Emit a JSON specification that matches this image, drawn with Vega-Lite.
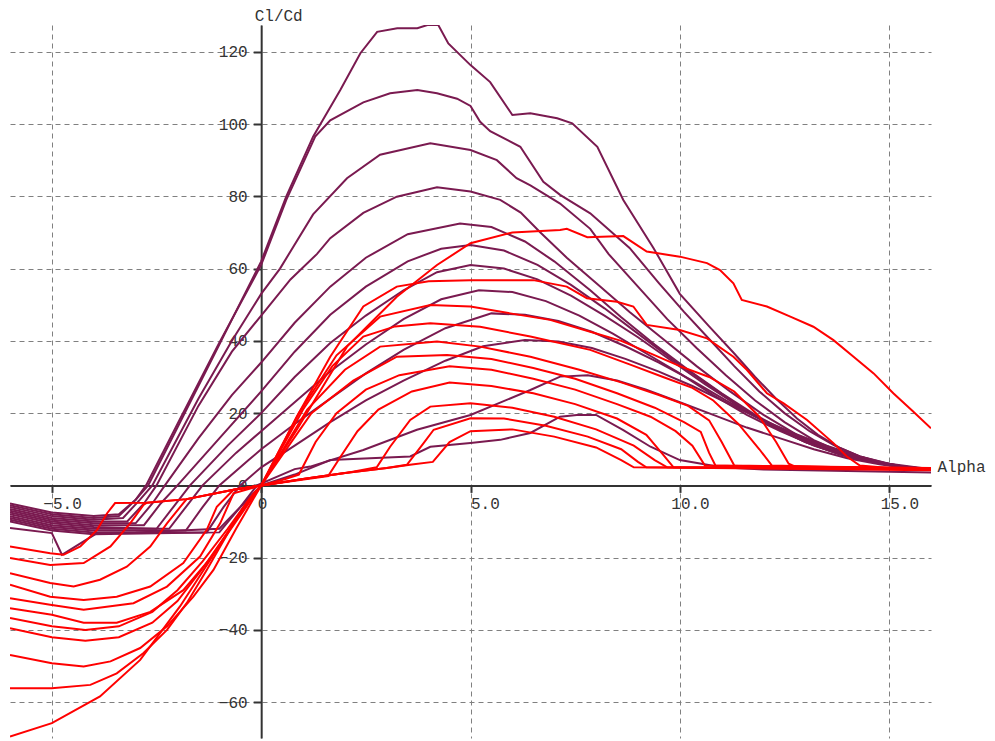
{
"$schema":"https://vega.github.io/schema/vega-lite/v6.json",
"width":921,"height":713,
"autosize":{"type":"none"},
"padding":{"left":10,"top":25,"right":64,"bottom":3},
"background":"white",
"config":{"view":{"stroke":null},"font":"Liberation Mono"},
"datasets":{
"purple":[
{"s":"P1","x":-6,"y":-5},{"s":"P1","x":-5,"y":-7.5},{"s":"P1","x":-4,"y":-8.5},{"s":"P1","x":-3.4,"y":-8},{"s":"P1","x":-3.0,"y":-4},{"s":"P1","x":-2.7,"y":0},{"s":"P1","x":-2.0,"y":16},{"s":"P1","x":-1.0,"y":39},{"s":"P1","x":0,"y":62},{"s":"P1","x":0.6,"y":80},{"s":"P1","x":1.24,"y":96.5},{"s":"P1","x":1.89,"y":109.4},{"s":"P1","x":2.37,"y":119.6},{"s":"P1","x":2.77,"y":125.5},{"s":"P1","x":3.25,"y":126.5},{"s":"P1","x":3.73,"y":126.5},{"s":"P1","x":3.97,"y":127.4},{"s":"P1","x":4.23,"y":127.4},{"s":"P1","x":4.47,"y":122.3},{"s":"P1","x":5.0,"y":116.3},{"s":"P1","x":5.47,"y":111.6},{"s":"P1","x":6.0,"y":102.5},{"s":"P1","x":6.43,"y":103},{"s":"P1","x":7.07,"y":101.6},{"s":"P1","x":7.43,"y":100.2},{"s":"P1","x":8.03,"y":93.7},{"s":"P1","x":8.65,"y":79},{"s":"P1","x":9.37,"y":65.7},{"s":"P1","x":10,"y":53},{"s":"P1","x":10.7,"y":44},{"s":"P1","x":11.3,"y":36.5},{"s":"P1","x":11.8,"y":30},{"s":"P1","x":12.3,"y":24},{"s":"P1","x":12.8,"y":18.5},{"s":"P1","x":13.3,"y":14},{"s":"P1","x":13.8,"y":10.5},{"s":"P1","x":14.3,"y":8},{"s":"P1","x":14.8,"y":6.3},{"s":"P1","x":15.3,"y":5.2},{"s":"P1","x":16,"y":4.3},
{"s":"P2","x":-6,"y":-5.5},{"s":"P2","x":-5,"y":-8},{"s":"P2","x":-4,"y":-9},{"s":"P2","x":-3.4,"y":-8.5},{"s":"P2","x":-3.0,"y":-4},{"s":"P2","x":-2.75,"y":0},{"s":"P2","x":-2.0,"y":17},{"s":"P2","x":-1.0,"y":39.5},{"s":"P2","x":0,"y":61},{"s":"P2","x":0.6,"y":79},{"s":"P2","x":1.29,"y":96.5},{"s":"P2","x":1.65,"y":101},{"s":"P2","x":2.44,"y":106},{"s":"P2","x":3.08,"y":108.5},{"s":"P2","x":3.73,"y":109.4},{"s":"P2","x":4.2,"y":108.5},{"s":"P2","x":4.68,"y":107},{"s":"P2","x":5.0,"y":105},{"s":"P2","x":5.23,"y":100.6},{"s":"P2","x":5.47,"y":98},{"s":"P2","x":6.19,"y":93.7},{"s":"P2","x":6.74,"y":84},{"s":"P2","x":7.14,"y":80.4},{"s":"P2","x":7.86,"y":75.3},{"s":"P2","x":8.8,"y":65.7},{"s":"P2","x":9.5,"y":56},{"s":"P2","x":10.1,"y":48},{"s":"P2","x":10.7,"y":40.5},{"s":"P2","x":11.3,"y":33},{"s":"P2","x":11.9,"y":26},{"s":"P2","x":12.5,"y":20},{"s":"P2","x":13.1,"y":15},{"s":"P2","x":13.7,"y":11},{"s":"P2","x":14.3,"y":8},{"s":"P2","x":14.9,"y":6.2},{"s":"P2","x":15.4,"y":5.1},{"s":"P2","x":16,"y":4.3},
{"s":"P3","x":-6,"y":-6},{"s":"P3","x":-5,"y":-8.5},{"s":"P3","x":-4,"y":-9.5},{"s":"P3","x":-3.3,"y":-9},{"s":"P3","x":-2.9,"y":-4},{"s":"P3","x":-2.6,"y":0},{"s":"P3","x":-1.5,"y":24},{"s":"P3","x":-0.7,"y":40},{"s":"P3","x":0,"y":53},{"s":"P3","x":0.45,"y":60},{"s":"P3","x":1.24,"y":75},{"s":"P3","x":2.05,"y":85},{"s":"P3","x":2.84,"y":91.5},{"s":"P3","x":4.04,"y":94.7},{"s":"P3","x":5,"y":92.8},{"s":"P3","x":5.63,"y":90},{"s":"P3","x":6.1,"y":85},{"s":"P3","x":6.43,"y":83},{"s":"P3","x":7.14,"y":78},{"s":"P3","x":7.86,"y":71},{"s":"P3","x":8.3,"y":64},{"s":"P3","x":9,"y":55},{"s":"P3","x":9.7,"y":46},{"s":"P3","x":10.4,"y":38},{"s":"P3","x":11.1,"y":30.5},{"s":"P3","x":11.8,"y":23.5},{"s":"P3","x":12.5,"y":17.5},{"s":"P3","x":13.2,"y":12.5},{"s":"P3","x":13.9,"y":9},{"s":"P3","x":14.6,"y":6.8},{"s":"P3","x":15.3,"y":5.3},{"s":"P3","x":16,"y":4.4},
{"s":"P4","x":-6,"y":-6.5},{"s":"P4","x":-5,"y":-9},{"s":"P4","x":-4,"y":-10},{"s":"P4","x":-3.2,"y":-10},{"s":"P4","x":-2.8,"y":-5},{"s":"P4","x":-2.5,"y":0},{"s":"P4","x":-1.5,"y":22},{"s":"P4","x":-0.7,"y":37},{"s":"P4","x":0,"y":47},{"s":"P4","x":0.7,"y":57},{"s":"P4","x":1.33,"y":64},{"s":"P4","x":1.65,"y":68.4},{"s":"P4","x":2.44,"y":75.4},{"s":"P4","x":3.24,"y":79.9},{"s":"P4","x":4.2,"y":82.5},{"s":"P4","x":5,"y":81.3},{"s":"P4","x":5.71,"y":79},{"s":"P4","x":6.2,"y":75.5},{"s":"P4","x":6.67,"y":70},{"s":"P4","x":7.3,"y":63},{"s":"P4","x":8,"y":56},{"s":"P4","x":8.8,"y":48},{"s":"P4","x":9.6,"y":40.5},{"s":"P4","x":10.4,"y":33},{"s":"P4","x":11.2,"y":26},{"s":"P4","x":12,"y":19.5},{"s":"P4","x":12.8,"y":14},{"s":"P4","x":13.6,"y":10},{"s":"P4","x":14.4,"y":7.2},{"s":"P4","x":15.2,"y":5.4},{"s":"P4","x":16,"y":4.4},
{"s":"P5","x":-6,"y":-7},{"s":"P5","x":-5,"y":-9.5},{"s":"P5","x":-4,"y":-10.5},{"s":"P5","x":-3,"y":-10.5},{"s":"P5","x":-2.6,"y":-5},{"s":"P5","x":-2.3,"y":0},{"s":"P5","x":-1.5,"y":13},{"s":"P5","x":-0.7,"y":25},{"s":"P5","x":0,"y":34},{"s":"P5","x":0.8,"y":45},{"s":"P5","x":1.65,"y":55},{"s":"P5","x":2.5,"y":63},{"s":"P5","x":3.5,"y":69.5},{"s":"P5","x":4.75,"y":72.5},{"s":"P5","x":5.5,"y":71.5},{"s":"P5","x":6.3,"y":67.5},{"s":"P5","x":7,"y":62},{"s":"P5","x":7.86,"y":54},{"s":"P5","x":8.6,"y":46.5},{"s":"P5","x":9.4,"y":39},{"s":"P5","x":10.2,"y":32},{"s":"P5","x":11,"y":25.5},{"s":"P5","x":11.8,"y":19.5},{"s":"P5","x":12.6,"y":14.5},{"s":"P5","x":13.4,"y":10.5},{"s":"P5","x":14.2,"y":7.5},{"s":"P5","x":15,"y":5.6},{"s":"P5","x":16,"y":4.4},
{"s":"P6","x":-6,"y":-7.5},{"s":"P6","x":-5,"y":-10},{"s":"P6","x":-4,"y":-11},{"s":"P6","x":-2.8,"y":-11},{"s":"P6","x":-2.4,"y":-5},{"s":"P6","x":-2.0,"y":0},{"s":"P6","x":-1,"y":13},{"s":"P6","x":0,"y":26},{"s":"P6","x":0.8,"y":37},{"s":"P6","x":1.65,"y":47.2},{"s":"P6","x":2.5,"y":55},{"s":"P6","x":3.5,"y":62},{"s":"P6","x":4.3,"y":65.5},{"s":"P6","x":5,"y":66.5},{"s":"P6","x":5.8,"y":65},{"s":"P6","x":6.6,"y":61},{"s":"P6","x":7.4,"y":55.5},{"s":"P6","x":8.2,"y":49},{"s":"P6","x":9,"y":42},{"s":"P6","x":9.8,"y":35},{"s":"P6","x":10.6,"y":28.5},{"s":"P6","x":11.4,"y":22},{"s":"P6","x":12.2,"y":16.5},{"s":"P6","x":13,"y":12},{"s":"P6","x":13.8,"y":8.7},{"s":"P6","x":14.6,"y":6.4},{"s":"P6","x":15.3,"y":5.1},{"s":"P6","x":16,"y":4.4},
{"s":"P7","x":-6,"y":-8},{"s":"P7","x":-5,"y":-10.5},{"s":"P7","x":-4,"y":-11.5},{"s":"P7","x":-2.5,"y":-12},{"s":"P7","x":-2.1,"y":-6},{"s":"P7","x":-1.7,"y":0},{"s":"P7","x":-0.8,"y":11},{"s":"P7","x":0,"y":20},{"s":"P7","x":0.8,"y":30},{"s":"P7","x":1.65,"y":39.4},{"s":"P7","x":2.5,"y":47},{"s":"P7","x":3.4,"y":54},{"s":"P7","x":4.2,"y":59},{"s":"P7","x":5,"y":61},{"s":"P7","x":5.8,"y":60},{"s":"P7","x":6.6,"y":57},{"s":"P7","x":7.4,"y":52.5},{"s":"P7","x":8.2,"y":47},{"s":"P7","x":9,"y":41},{"s":"P7","x":9.8,"y":34.5},{"s":"P7","x":10.6,"y":28},{"s":"P7","x":11.4,"y":22},{"s":"P7","x":12.2,"y":16.5},{"s":"P7","x":13,"y":12},{"s":"P7","x":13.8,"y":8.7},{"s":"P7","x":14.6,"y":6.4},{"s":"P7","x":15.3,"y":5.1},{"s":"P7","x":16,"y":4.4},
{"s":"P8","x":-6,"y":-8.5},{"s":"P8","x":-5,"y":-11},{"s":"P8","x":-4,"y":-12},{"s":"P8","x":-2.2,"y":-12},{"s":"P8","x":-1.8,"y":-6},{"s":"P8","x":-1.4,"y":0},{"s":"P8","x":-0.6,"y":9},{"s":"P8","x":0,"y":15},{"s":"P8","x":0.8,"y":23},{"s":"P8","x":1.65,"y":31.5},{"s":"P8","x":2.5,"y":39},{"s":"P8","x":3.4,"y":46},{"s":"P8","x":4.3,"y":51.5},{"s":"P8","x":5.2,"y":54},{"s":"P8","x":6,"y":53.5},{"s":"P8","x":6.8,"y":51},{"s":"P8","x":7.6,"y":47},{"s":"P8","x":8.4,"y":42},{"s":"P8","x":9.2,"y":36.5},{"s":"P8","x":10,"y":31},{"s":"P8","x":10.8,"y":25},{"s":"P8","x":11.6,"y":19.5},{"s":"P8","x":12.4,"y":15},{"s":"P8","x":13.2,"y":11},{"s":"P8","x":14,"y":8},{"s":"P8","x":14.8,"y":6},{"s":"P8","x":15.5,"y":4.8},{"s":"P8","x":16,"y":4.4},
{"s":"P9","x":-6,"y":-9},{"s":"P9","x":-5,"y":-11.5},{"s":"P9","x":-4,"y":-12.5},{"s":"P9","x":-1.8,"y":-12.5},{"s":"P9","x":-1.4,"y":-6},{"s":"P9","x":-1.0,"y":0},{"s":"P9","x":-0.3,"y":7},{"s":"P9","x":0,"y":10},{"s":"P9","x":0.8,"y":17},{"s":"P9","x":1.65,"y":24},{"s":"P9","x":2.5,"y":31},{"s":"P9","x":3.4,"y":37.5},{"s":"P9","x":4.4,"y":43.5},{"s":"P9","x":5.5,"y":47.6},{"s":"P9","x":6.3,"y":47.2},{"s":"P9","x":7.1,"y":45.5},{"s":"P9","x":7.9,"y":42.5},{"s":"P9","x":8.7,"y":38.5},{"s":"P9","x":9.5,"y":34},{"s":"P9","x":10.3,"y":29},{"s":"P9","x":11.1,"y":23.5},{"s":"P9","x":11.9,"y":18.5},{"s":"P9","x":12.7,"y":14},{"s":"P9","x":13.5,"y":10.5},{"s":"P9","x":14.3,"y":7.5},{"s":"P9","x":15,"y":5.7},{"s":"P9","x":16,"y":4.4},
{"s":"P10","x":-6,"y":-9.5},{"s":"P10","x":-5,"y":-12},{"s":"P10","x":-4,"y":-13},{"s":"P10","x":-1.3,"y":-13},{"s":"P10","x":-0.9,"y":-6},{"s":"P10","x":-0.5,"y":0},{"s":"P10","x":0,"y":5},{"s":"P10","x":0.8,"y":11},{"s":"P10","x":1.65,"y":17.5},{"s":"P10","x":2.5,"y":23.5},{"s":"P10","x":3.4,"y":29},{"s":"P10","x":4.4,"y":34.5},{"s":"P10","x":5.3,"y":38.5},{"s":"P10","x":6.3,"y":40.2},{"s":"P10","x":7.1,"y":39.8},{"s":"P10","x":7.9,"y":38},{"s":"P10","x":8.7,"y":35},{"s":"P10","x":9.5,"y":31.5},{"s":"P10","x":10.3,"y":27.5},{"s":"P10","x":11.1,"y":23},{"s":"P10","x":11.9,"y":18.5},{"s":"P10","x":12.7,"y":14.5},{"s":"P10","x":13.5,"y":11},{"s":"P10","x":14.3,"y":8},{"s":"P10","x":15,"y":6},{"s":"P10","x":16,"y":4.5},
{"s":"P11","x":-6,"y":-10},{"s":"P11","x":-5,"y":-12.5},{"s":"P11","x":-4,"y":-13.5},{"s":"P11","x":-1,"y":-13},{"s":"P11","x":-0.5,"y":-6},{"s":"P11","x":-0.1,"y":0},{"s":"P11","x":0.8,"y":4.5},{"s":"P11","x":1.17,"y":5.2},{"s":"P11","x":2.44,"y":9.8},{"s":"P11","x":3.72,"y":15.4},{"s":"P11","x":5,"y":19.5},{"s":"P11","x":6.43,"y":26.4},{"s":"P11","x":7.14,"y":30.1},{"s":"P11","x":7.8,"y":30.5},{"s":"P11","x":8.5,"y":29},{"s":"P11","x":9.2,"y":26.5},{"s":"P11","x":10,"y":23},{"s":"P11","x":10.8,"y":19.5},{"s":"P11","x":11.6,"y":16},{"s":"P11","x":12.4,"y":13},{"s":"P11","x":13.2,"y":10},{"s":"P11","x":14,"y":7.5},{"s":"P11","x":14.8,"y":5.8},{"s":"P11","x":15.5,"y":4.8},{"s":"P11","x":16,"y":4.5},
{"s":"P12","x":-6,"y":-11.8},{"s":"P12","x":-5,"y":-13.2},{"s":"P12","x":-4.76,"y":-19.2},{"s":"P12","x":-3.92,"y":-13.2},{"s":"P12","x":-3,"y":-13},{"s":"P12","x":-1,"y":-12},{"s":"P12","x":-0.5,"y":-6},{"s":"P12","x":0,"y":0},{"s":"P12","x":0.8,"y":3},{"s":"P12","x":1.65,"y":7},{"s":"P12","x":3.56,"y":8},{"s":"P12","x":4.04,"y":10.7},{"s":"P12","x":5,"y":11.7},{"s":"P12","x":5.71,"y":12.6},{"s":"P12","x":6.43,"y":14.5},{"s":"P12","x":7.14,"y":19},{"s":"P12","x":7.54,"y":19.5},{"s":"P12","x":8.0,"y":19.5},{"s":"P12","x":8.65,"y":15.3},{"s":"P12","x":9.3,"y":10.7},{"s":"P12","x":10,"y":7},{"s":"P12","x":11,"y":5},{"s":"P12","x":12,"y":4.4},{"s":"P12","x":14,"y":4},{"s":"P12","x":16,"y":3.6}
],
"red":[
{"s":"R1","x":-6,"y":-69.5},{"s":"R1","x":-5,"y":-65.8},{"s":"R1","x":-3.85,"y":-58.4},{"s":"R1","x":-2.89,"y":-48.3},{"s":"R1","x":-1.94,"y":-33.5},{"s":"R1","x":-1.06,"y":-17.8},{"s":"R1","x":-0.42,"y":-5.9},{"s":"R1","x":0,"y":0},{"s":"R1","x":0.85,"y":15.4},{"s":"R1","x":2.05,"y":38.4},{"s":"R1","x":3.24,"y":52.2},{"s":"R1","x":4.2,"y":61},{"s":"R1","x":5,"y":67},{"s":"R1","x":6,"y":70},{"s":"R1","x":7.14,"y":70.7},{"s":"R1","x":7.3,"y":71},{"s":"R1","x":7.79,"y":68.7},{"s":"R1","x":8.65,"y":69},{"s":"R1","x":9.21,"y":64.7},{"s":"R1","x":10,"y":63.3},{"s":"R1","x":10.65,"y":61.5},{"s":"R1","x":10.96,"y":59.6},{"s":"R1","x":11.28,"y":55.9},{"s":"R1","x":11.48,"y":51.3},{"s":"R1","x":12.08,"y":49.5},{"s":"R1","x":12.64,"y":46.7},{"s":"R1","x":13.19,"y":43.9},{"s":"R1","x":13.67,"y":40.2},{"s":"R1","x":14.15,"y":35.6},{"s":"R1","x":14.63,"y":31},{"s":"R1","x":15.1,"y":25.5},{"s":"R1","x":15.58,"y":20.4},{"s":"R1","x":16,"y":15.8},
{"s":"R2","x":-6,"y":-56.1},{"s":"R2","x":-5,"y":-56.1},{"s":"R2","x":-4.08,"y":-55.2},{"s":"R2","x":-3.45,"y":-52},{"s":"R2","x":-2.81,"y":-46.4},{"s":"R2","x":-2.25,"y":-40},{"s":"R2","x":-1.78,"y":-32.6},{"s":"R2","x":-1.3,"y":-23.4},{"s":"R2","x":-0.66,"y":-10.5},{"s":"R2","x":-0.18,"y":-2.2},{"s":"R2","x":0,"y":0},{"s":"R2","x":0.85,"y":19},{"s":"R2","x":1.65,"y":35.6},{"s":"R2","x":2.44,"y":49.5},{"s":"R2","x":3.24,"y":55},{"s":"R2","x":4,"y":56.5},{"s":"R2","x":5,"y":56.8},{"s":"R2","x":6.5,"y":56.8},{"s":"R2","x":7.3,"y":55},{"s":"R2","x":7.78,"y":51.8},{"s":"R2","x":8.5,"y":50.8},{"s":"R2","x":8.89,"y":49.5},{"s":"R2","x":9.21,"y":44.4},{"s":"R2","x":10,"y":43},{"s":"R2","x":10.65,"y":40.7},{"s":"R2","x":11.28,"y":35.6},{"s":"R2","x":11.6,"y":32},{"s":"R2","x":12.08,"y":25.5},{"s":"R2","x":12.48,"y":22.7},{"s":"R2","x":13.04,"y":18.1},{"s":"R2","x":13.67,"y":11.7},{"s":"R2","x":13.99,"y":8},{"s":"R2","x":14.3,"y":5.5},{"s":"R2","x":15,"y":4.8},{"s":"R2","x":16,"y":4.5},
{"s":"R3","x":-6,"y":-46.9},{"s":"R3","x":-5,"y":-49.2},{"s":"R3","x":-4.24,"y":-50.1},{"s":"R3","x":-3.6,"y":-48.7},{"s":"R3","x":-2.89,"y":-45},{"s":"R3","x":-2.25,"y":-39},{"s":"R3","x":-1.62,"y":-30.8},{"s":"R3","x":-1.14,"y":-23.4},{"s":"R3","x":-0.6,"y":-12},{"s":"R3","x":0,"y":0},{"s":"R3","x":0.9,"y":20},{"s":"R3","x":1.8,"y":36},{"s":"R3","x":2.84,"y":46.7},{"s":"R3","x":4.04,"y":49.9},{"s":"R3","x":5,"y":49.5},{"s":"R3","x":5.95,"y":47.6},{"s":"R3","x":6.9,"y":45.8},{"s":"R3","x":7.86,"y":42.5},{"s":"R3","x":8.6,"y":40},{"s":"R3","x":9.2,"y":37},{"s":"R3","x":10,"y":33},{"s":"R3","x":10.7,"y":30},{"s":"R3","x":11.3,"y":26},{"s":"R3","x":11.9,"y":19},{"s":"R3","x":12.3,"y":12},{"s":"R3","x":12.6,"y":6},{"s":"R3","x":12.8,"y":5},{"s":"R3","x":16,"y":4.6},
{"s":"R4","x":-6,"y":-39.5},{"s":"R4","x":-5,"y":-42},{"s":"R4","x":-4.2,"y":-43},{"s":"R4","x":-3.4,"y":-42},{"s":"R4","x":-2.6,"y":-38},{"s":"R4","x":-2,"y":-32},{"s":"R4","x":-1.4,"y":-23},{"s":"R4","x":-0.8,"y":-13},{"s":"R4","x":-0.3,"y":-4.5},{"s":"R4","x":0,"y":0},{"s":"R4","x":1.0,"y":21},{"s":"R4","x":1.7,"y":33},{"s":"R4","x":2.44,"y":41.2},{"s":"R4","x":3.2,"y":44},{"s":"R4","x":4.04,"y":44.9},{"s":"R4","x":5.23,"y":43.9},{"s":"R4","x":6.43,"y":41.2},{"s":"R4","x":7.86,"y":37.5},{"s":"R4","x":8.8,"y":33.5},{"s":"R4","x":9.6,"y":30},{"s":"R4","x":10.3,"y":27},{"s":"R4","x":10.8,"y":23.5},{"s":"R4","x":11.4,"y":17},{"s":"R4","x":11.9,"y":10},{"s":"R4","x":12.2,"y":5.5},{"s":"R4","x":16,"y":4.4},
{"s":"R5","x":-6,"y":-36.7},{"s":"R5","x":-5,"y":-39},{"s":"R5","x":-4.2,"y":-40},{"s":"R5","x":-3.4,"y":-39},{"s":"R5","x":-2.6,"y":-35},{"s":"R5","x":-2,"y":-29},{"s":"R5","x":-1.4,"y":-21},{"s":"R5","x":-0.8,"y":-12},{"s":"R5","x":-0.3,"y":-4},{"s":"R5","x":0,"y":0},{"s":"R5","x":1.1,"y":21},{"s":"R5","x":2.0,"y":32},{"s":"R5","x":2.84,"y":38.4},{"s":"R5","x":4.2,"y":39.8},{"s":"R5","x":5.23,"y":38.4},{"s":"R5","x":6.43,"y":35.6},{"s":"R5","x":7.6,"y":32},{"s":"R5","x":8.6,"y":28.5},{"s":"R5","x":9.5,"y":25},{"s":"R5","x":10.2,"y":22},{"s":"R5","x":10.7,"y":18},{"s":"R5","x":11.0,"y":12},{"s":"R5","x":11.3,"y":5.5},{"s":"R5","x":16,"y":4.8},
{"s":"R6","x":-6,"y":-34},{"s":"R6","x":-5,"y":-35.8},{"s":"R6","x":-4.24,"y":-38},{"s":"R6","x":-3.45,"y":-38},{"s":"R6","x":-2.65,"y":-35},{"s":"R6","x":-1.86,"y":-29},{"s":"R6","x":-1.2,"y":-20},{"s":"R6","x":-0.6,"y":-10},{"s":"R6","x":0,"y":0},{"s":"R6","x":1.2,"y":20},{"s":"R6","x":2.2,"y":29},{"s":"R6","x":3.24,"y":35.6},{"s":"R6","x":4.44,"y":36.1},{"s":"R6","x":5.5,"y":35},{"s":"R6","x":6.5,"y":32.5},{"s":"R6","x":7.5,"y":29.5},{"s":"R6","x":8.5,"y":25.5},{"s":"R6","x":9.4,"y":21.5},{"s":"R6","x":10.1,"y":17.5},{"s":"R6","x":10.5,"y":14.8},{"s":"R6","x":10.7,"y":9},{"s":"R6","x":10.85,"y":5.5},{"s":"R6","x":16,"y":4.3},
{"s":"R7","x":-6,"y":-31.2},{"s":"R7","x":-5.04,"y":-33},{"s":"R7","x":-4.24,"y":-34.4},{"s":"R7","x":-3.05,"y":-32.6},{"s":"R7","x":-2.25,"y":-28},{"s":"R7","x":-1.46,"y":-19.7},{"s":"R7","x":-0.98,"y":-10.5},{"s":"R7","x":-0.66,"y":-2.2},{"s":"R7","x":-0.3,"y":-1},{"s":"R7","x":0,"y":0},{"s":"R7","x":0.5,"y":1.5},{"s":"R7","x":0.9,"y":3},{"s":"R7","x":1.3,"y":12},{"s":"R7","x":1.8,"y":20},{"s":"R7","x":2.5,"y":26.5},{"s":"R7","x":3.3,"y":30.5},{"s":"R7","x":4.5,"y":33},{"s":"R7","x":5.5,"y":32},{"s":"R7","x":6.5,"y":29.5},{"s":"R7","x":7.5,"y":26.5},{"s":"R7","x":8.5,"y":22.5},{"s":"R7","x":9.3,"y":19},{"s":"R7","x":9.9,"y":15},{"s":"R7","x":10.3,"y":11},{"s":"R7","x":10.6,"y":5.5},{"s":"R7","x":16,"y":4.6},
{"s":"R8","x":-6,"y":-27.5},{"s":"R8","x":-5.04,"y":-30.8},{"s":"R8","x":-4.24,"y":-31.7},{"s":"R8","x":-3.45,"y":-30.8},{"s":"R8","x":-2.65,"y":-28},{"s":"R8","x":-1.86,"y":-21.5},{"s":"R8","x":-1.3,"y":-12.3},{"s":"R8","x":-1.06,"y":-5.9},{"s":"R8","x":-0.66,"y":-1.2},{"s":"R8","x":0,"y":0},{"s":"R8","x":0.8,"y":1.3},{"s":"R8","x":1.6,"y":2.6},{"s":"R8","x":1.9,"y":8},{"s":"R8","x":2.3,"y":15},{"s":"R8","x":2.8,"y":21},{"s":"R8","x":3.6,"y":26},{"s":"R8","x":4.5,"y":28.5},{"s":"R8","x":5.5,"y":27.5},{"s":"R8","x":6.5,"y":25.5},{"s":"R8","x":7.5,"y":22.5},{"s":"R8","x":8.5,"y":18.5},{"s":"R8","x":9.2,"y":14},{"s":"R8","x":9.6,"y":8.5},{"s":"R8","x":9.85,"y":5},{"s":"R8","x":16,"y":4.4},
{"s":"R9","x":-6,"y":-24.3},{"s":"R9","x":-5.04,"y":-27},{"s":"R9","x":-4.48,"y":-28},{"s":"R9","x":-3.85,"y":-26.1},{"s":"R9","x":-3.21,"y":-22.5},{"s":"R9","x":-2.65,"y":-16.9},{"s":"R9","x":-2.25,"y":-10.5},{"s":"R9","x":-1.86,"y":-4.9},{"s":"R9","x":-1.78,"y":-3.8},{"s":"R9","x":-0.66,"y":-1.2},{"s":"R9","x":0,"y":0},{"s":"R9","x":1.0,"y":1.8},{"s":"R9","x":2.0,"y":3.4},{"s":"R9","x":2.76,"y":5},{"s":"R9","x":3.08,"y":10.7},{"s":"R9","x":3.56,"y":18.1},{"s":"R9","x":4.04,"y":21.8},{"s":"R9","x":5,"y":22.7},{"s":"R9","x":6,"y":21.5},{"s":"R9","x":7,"y":19},{"s":"R9","x":8,"y":15.5},{"s":"R9","x":8.9,"y":11},{"s":"R9","x":9.4,"y":7},{"s":"R9","x":9.7,"y":5},{"s":"R9","x":16,"y":4.6},
{"s":"R10","x":-6,"y":-20.1},{"s":"R10","x":-5.04,"y":-22},{"s":"R10","x":-4.24,"y":-21.5},{"s":"R10","x":-3.6,"y":-16.9},{"s":"R10","x":-3.13,"y":-10.5},{"s":"R10","x":-2.81,"y":-5.4},{"s":"R10","x":-2.73,"y":-4.8},{"s":"R10","x":-1.78,"y":-3.8},{"s":"R10","x":-0.66,"y":-1.2},{"s":"R10","x":0,"y":0},{"s":"R10","x":1.0,"y":1.8},{"s":"R10","x":2.0,"y":3.4},{"s":"R10","x":3.0,"y":4.8},{"s":"R10","x":3.48,"y":5.7},{"s":"R10","x":3.88,"y":11.7},{"s":"R10","x":4.12,"y":15.4},{"s":"R10","x":5,"y":18.6},{"s":"R10","x":5.8,"y":18.5},{"s":"R10","x":6.8,"y":16.5},{"s":"R10","x":7.8,"y":13.5},{"s":"R10","x":8.6,"y":10},{"s":"R10","x":9.0,"y":6.5},{"s":"R10","x":9.2,"y":5},{"s":"R10","x":16,"y":4.8},
{"s":"R11","x":-6,"y":-16.9},{"s":"R11","x":-5.04,"y":-18.8},{"s":"R11","x":-4.72,"y":-19.2},{"s":"R11","x":-4.32,"y":-16.9},{"s":"R11","x":-3.92,"y":-12.3},{"s":"R11","x":-3.68,"y":-7.7},{"s":"R11","x":-3.49,"y":-4.9},{"s":"R11","x":-2.73,"y":-4.8},{"s":"R11","x":-1.78,"y":-3.8},{"s":"R11","x":-0.66,"y":-1.2},{"s":"R11","x":0,"y":0},{"s":"R11","x":1,"y":1.8},{"s":"R11","x":2,"y":3.4},{"s":"R11","x":3,"y":4.8},{"s":"R11","x":3.6,"y":5.8},{"s":"R11","x":4.1,"y":6.5},{"s":"R11","x":4.5,"y":12},{"s":"R11","x":5,"y":15},{"s":"R11","x":6,"y":15.5},{"s":"R11","x":7,"y":13.5},{"s":"R11","x":8,"y":10.5},{"s":"R11","x":8.6,"y":7},{"s":"R11","x":8.9,"y":5},{"s":"R11","x":16,"y":4.2}
]
},
"encoding":{
"x":{"field":"x","type":"quantitative","scale":{"domain":[-6,16],"nice":false,"zero":false},
"axis":{"orient":"bottom","offset":{"expr":"scale('y',0)-height"},"values":[-5,0,5,10,15],"labelExpr":"datum.value==0?'0':format(datum.value,'.1f')","grid":true,"gridDash":[5,4],"gridColor":"#808080","gridWidth":1,"gridOpacity":1,"domainColor":"#333333","domainWidth":2,"tickColor":"#333333","tickWidth":2,"tickSize":7,"labelFont":"Liberation Mono","labelFontSize":16,"labelColor":"#333333","labelAlign":"left","labelOffset":{"condition":[{"test":"datum.value==5","value":0},{"test":"datum.value==0","value":-4}],"value":-9},"labelPadding":3,"labelBaseline":"top","labelFlush":false,"labelOverlap":false,"title":"Alpha","titleFont":"Liberation Mono","titleFontSize":16,"titleFontWeight":"normal","titleColor":"#333333","titleAngle":0,"titleX":927,"titleY":-14,"titleAlign":"left","titleBaseline":"alphabetic"}},
"y":{"field":"y","type":"quantitative","scale":{"domain":[-69.9,127.4],"nice":false,"zero":false},
"axis":{"orient":"left","offset":{"expr":"-scale('x',0)"},"values":[-60,-40,-20,0,20,40,60,80,100,120],"format":"d","grid":true,"gridDash":[5,4],"gridColor":"#808080","gridWidth":1,"gridOpacity":1,"domainColor":"#333333","domainWidth":2,"tickColor":"#333333","tickWidth":2,"tickSize":8,"labelFont":"Liberation Mono","labelFontSize":16,"labelColor":"#333333","labelAlign":"right","labelBaseline":"middle","labelPadding":6,"labelFlush":false,"labelOverlap":false,"title":"Cl/Cd","titleFont":"Liberation Mono","titleFontSize":16,"titleFontWeight":"normal","titleColor":"#333333","titleAngle":0,"titleX":-7,"titleY":-5,"titleAlign":"left","titleBaseline":"alphabetic"}}
},
"layer":[
{"data":{"name":"purple"},"mark":{"type":"line","stroke":"#7a1a50","strokeWidth":2,"clip":true},"encoding":{"detail":{"field":"s","type":"nominal"}}},
{"data":{"name":"red"},"mark":{"type":"line","stroke":"#ff0000","strokeWidth":2,"clip":true},"encoding":{"detail":{"field":"s","type":"nominal"}}}
]
}
